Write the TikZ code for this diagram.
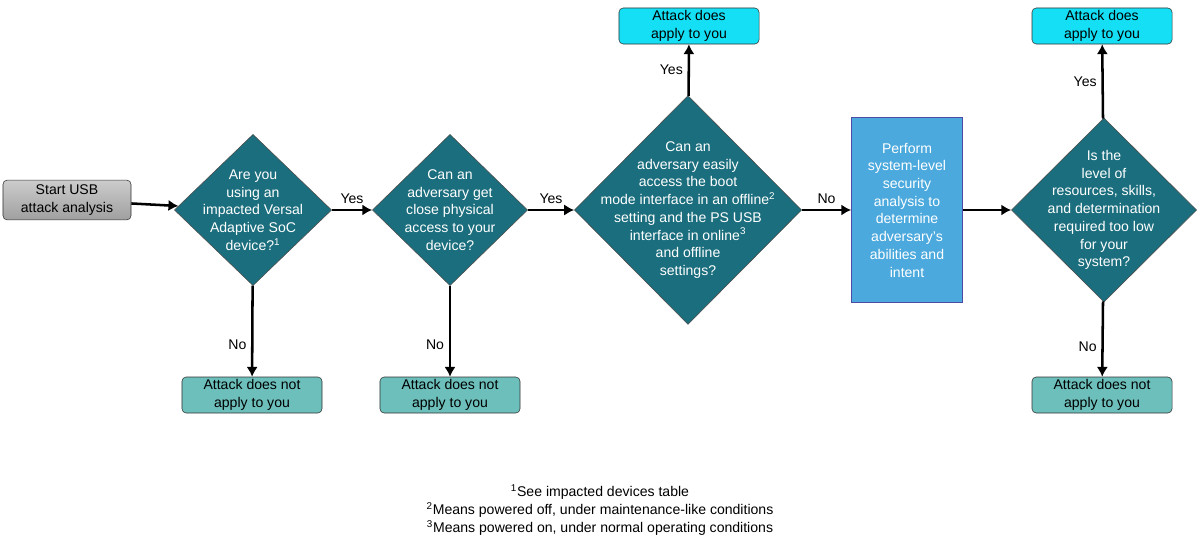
\documentclass[tikz,border=0pt]{standalone}
\usepackage{fontspec}
\setmainfont{Liberation Sans}
\usetikzlibrary{shapes.geometric, arrows.meta, positioning}
\definecolor{teal1}{HTML}{1B6E7D}
\definecolor{notbox}{HTML}{6CBFBA}
\definecolor{yesbox}{HTML}{14DFF4}
\definecolor{perform}{HTML}{4BA9DD}
\tikzset{
  flow/.style={line width=1.8pt, -{Latex[length=7pt,width=8pt]}},
  dec/.style={diamond, draw=black!70, fill=teal1, inner sep=0pt, shape aspect=1},
  dectext/.style={text=white, align=center, font=\fontsize{10}{12.6}\selectfont},
  endbox/.style={draw=black!80, rounded corners=3pt, minimum width=3.5cm, minimum height=0.9cm,
    inner sep=0pt, align=center, font=\fontsize{10}{12.6}\selectfont},
  lbl/.style={font=\fontsize{10}{12}\selectfont}
}
\begin{document}
\begin{tikzpicture}[x=0.025cm, y=-0.025cm]
        \useasboundingbox (0,0) rectangle (1200,546);
        % Nodes
        \node[draw=black!80, rounded corners=3pt, top color=gray!40, bottom color=gray!75,
          minimum width=3.2cm, minimum height=0.82cm, align=center,
          font=\fontsize{10}{12.6}\selectfont] (start) at (67,200) {Start USB\\attack analysis};

        \node[dec, minimum width=3.93cm, minimum height=3.78cm] (d1) at (253,210) {};
        \node[dectext] at (d1) {Are you\\using an\\impacted Versal\\Adaptive SoC\\device?\textsuperscript{1}};
        \node[dec, minimum width=3.88cm, minimum height=3.78cm] (d2) at (450,210) {};
        \node[dectext] at (d2) {Can an\\adversary get\\close physical\\access to your\\device?};
        \node[dec, minimum width=5.68cm, minimum height=5.72cm] (d3) at (688,210) {};
        \node[dectext] at (d3) {Can an\\adversary easily\\access the boot\\mode interface in an offline\textsuperscript{2}\\setting and the PS USB\\interface in online\textsuperscript{3}\\and offline\\settings?};
        \node[draw=blue!50!black!70, fill=perform, text=white, minimum width=2.78cm, minimum height=4.62cm,
          align=center, font=\fontsize{10}{12.6}\selectfont] (perf) at (907,210)
          {Perform\\system-level\\security\\analysis to\\determine\\adversary's\\abilities and\\intent};
        \node[dec, minimum width=4.63cm, minimum height=4.6cm] (d4) at (1104,210) {};
        \node[dectext] at (d4) {Is the\\level of\\resources, skills,\\and determination\\required too low\\for your\\system?};

        \node[endbox, fill=notbox] (no1) at (252,395) {Attack does not\\apply to you};
        \node[endbox, fill=notbox] (no2) at (450,395) {Attack does not\\apply to you};
        \node[endbox, fill=notbox] (no4) at (1102,395) {Attack does not\\apply to you};
        \node[endbox, fill=yesbox] (yes3) at (689,26) {Attack does\\apply to you};
        \node[endbox, fill=yesbox] (yes4) at (1102,26) {Attack does\\apply to you};

        % Lines
        \draw[flow] (start) -- (d1);
        \draw[flow] (d1) -- node[lbl, above] {Yes} (d2);
        \draw[flow] (d2) -- node[lbl, above] {Yes} (d3);
        \draw[flow] (d3) -- node[lbl, above] {No} (perf);
        \draw[flow] (perf) -- (d4);
        \draw[flow] (d1) -- node[lbl, left, pos=0.65] {No} (no1);
        \draw[flow] (d2) -- node[lbl, left, pos=0.65] {No} (no2);
        \draw[flow] (d4) -- node[lbl, left, pos=0.6] {No} (no4);
        \draw[flow] (d3) -- node[lbl, left] {Yes} (yes3);
        \draw[flow] (d4) -- node[lbl, left] {Yes} (yes4);

        % Footnotes
        \node[align=center, font=\fontsize{10}{13}\selectfont] (notes) at (600,510)
          {\textsuperscript{1}See impacted devices table\\
           \textsuperscript{2}Means powered off, under maintenance-like conditions\\
           \textsuperscript{3}Means powered on, under normal operating conditions};
    \end{tikzpicture}
\end{document}
